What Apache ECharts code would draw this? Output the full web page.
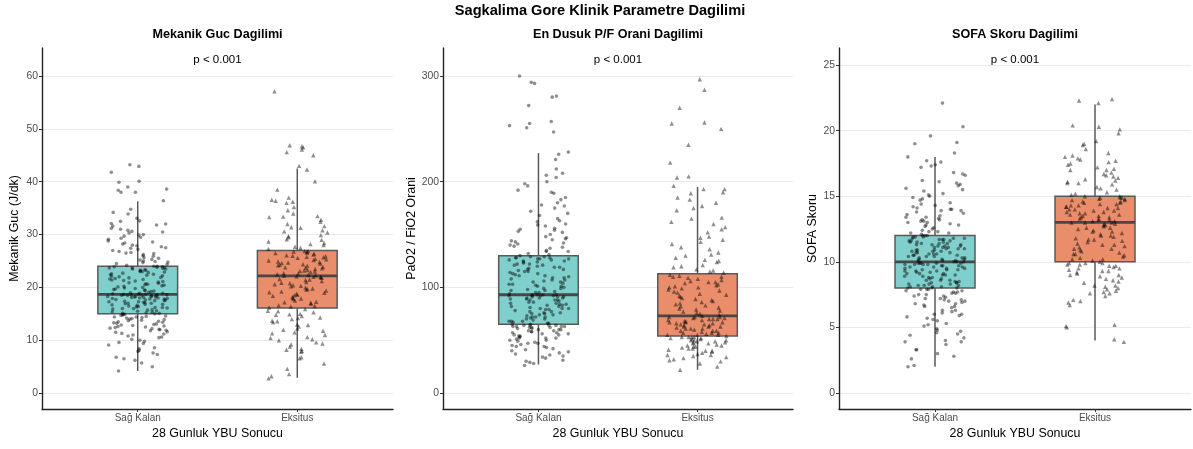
<!DOCTYPE html>
<html>
<head>
<meta charset="utf-8">
<script src="https://cdn.jsdelivr.net/npm/echarts@6/dist/echarts.min.js"></script>
<style>html,body{margin:0;padding:0;background:#fff}#c{width:1193px;height:449px}</style>
</head>
<body>
<div id="c"></div>
<script>
const categories = ['Sağ Kalan', 'Eksitus'];
const mainTitle = 'Sagkalima Gore Klinik Parametre Dagilimi';
const panelTitles = ['Mekanik Guc Dagilimi', 'En Dusuk P/F Orani Dagilimi', 'SOFA Skoru Dagilimi'];
const yNames = ['Mekanik Guc (J/dk)', 'PaO2 / FiO2 Orani', 'SOFA Skoru'];
const xName = '28 Gunluk YBU Sonucu';
const pLabel = 'p < 0.001';

const mgTicks = [0, 10, 20, 30, 40, 50, 60];
const pfTicks = [0, 100, 200, 300];
const sofaTicks = [0, 5, 10, 15, 20, 25];

// box stats: [min whisker, Q1, median, Q3, max whisker]
const mgBox = [[4.2, 15, 18.7, 24, 36.3], [2.9, 16.1, 22.2, 27, 42.5]];
const pfBox = [[27, 65, 93, 130, 227], [22, 54, 73, 113, 195]];
const sofaBox = [[2, 8, 10, 12, 18], [4, 10, 13, 15, 22]];

const mgSag = [4.2,5.0,5.7,6.2,6.5,7.3,7.6,7.9,8.1,8.4,9.1,9.4,9.8,10.2,10.5,10.8,11.0,11.3,11.6,11.8,12.0,12.1,12.3,12.5,12.7,12.9,13.0,13.2,13.4,13.5,13.7,13.8,14.0,14.1,14.3,14.4,14.5,14.6,14.8,14.9,
15.0,15.1,15.2,15.4,15.5,15.6,15.8,15.9,16.0,16.1,16.2,16.3,16.5,16.6,16.7,16.8,16.9,17.0,17.1,17.2,17.3,17.4,17.5,17.6,17.7,17.8,17.9,17.9,18.0,18.1,18.1,18.2,18.3,18.3,18.4,18.5,18.5,18.6,18.6,18.7,
18.8,18.9,19.0,19.1,19.3,19.4,19.5,19.7,19.8,20.0,20.1,20.2,20.4,20.5,20.6,20.8,20.9,21.0,21.2,21.3,21.5,21.6,21.8,21.9,22.0,22.2,22.3,22.5,22.6,22.8,22.9,23.0,23.1,23.2,23.4,23.5,23.6,23.7,23.8,23.9,
24.2,24.5,24.8,25.0,25.3,25.6,25.9,26.2,26.5,26.8,27.0,27.4,27.7,28.0,28.4,28.8,29.1,29.5,29.9,30.3,30.8,31.2,31.6,32.0,32.1,32.5,32.6,33.1,33.9,34.2,34.8,36.4,38.0,38.0,38.4,38.6,39.0,39.9,40.1,41.8,42.9,43.2,
6.8,8.6,9.6,10.0,10.6,11.2,11.5,11.9,12.2,12.4,12.6,12.8,13.1,13.3,13.6,13.9,14.2,14.4,14.7,14.9,
15.1,15.3,15.7,16.0,16.2,16.4,16.8,17.0,17.3,17.5,17.6,17.8,18.0,18.2,18.3,18.4,18.5,18.6,18.7,18.7,
18.9,19.2,19.6,19.9,20.3,20.7,21.1,21.4,21.7,22.1,22.4,22.7,23.0,23.3,23.5,23.7,23.8,23.9,24.0,24.0,
24.4,24.9,25.5,26.0,26.6,27.2,27.9,28.6,29.3,30.0,30.6,31.0,31.8,25.2,26.4,28.2,29.7,24.7,27.5,30.5];
const mgEks = [2.8,3.2,3.6,4.6,5.6,6.6,6.8,7.8,8.0,8.4,8.8,9.4,9.6,10.0,10.2,10.6,11.0,11.5,11.8,12.2,12.6,13.0,13.4,13.7,14.0,14.3,14.6,14.8,15.0,15.3,15.6,15.9,
16.2,16.4,16.6,16.9,17.1,17.3,17.5,17.8,18.0,18.2,18.4,18.6,18.8,19.0,19.2,19.4,19.6,19.8,20.0,20.2,20.4,20.6,20.8,21.0,21.2,21.4,21.6,21.8,21.9,22.0,22.1,22.2,
22.3,22.4,22.6,22.7,22.9,23.0,23.2,23.3,23.5,23.6,23.8,23.9,24.1,24.2,24.4,24.5,24.6,24.8,24.9,25.1,25.3,25.4,25.6,25.8,25.9,26.1,26.2,26.4,26.5,26.7,26.8,26.9,
27.3,27.7,28.0,28.4,28.7,29.1,29.5,29.9,30.4,30.8,31.3,31.6,32.0,32.8,33.3,33.4,33.5,34.6,36.0,36.2,36.4,36.6,37.0,40.1,42.3,43.0,45.0,45.6,46.1,46.5,46.7,46.9,57.1,
8.2,9.2,10.4,11.3,12.0,12.9,13.6,14.2,14.9,15.5,
16.5,17.2,17.9,18.5,19.1,19.7,20.3,20.9,21.5,22.0,
22.5,23.1,23.7,24.3,24.7,25.2,25.7,26.0,26.6,26.9,
27.5,28.2,29.0,29.7,30.6,31.4,32.4,34.0,35.2,38.5];
const pfSag = [26,28,30,31,33,35,36,37,38,40,41,42,43,44,45,46,47,48,49,50,51,52,52,53,54,55,56,57,57,58,59,60,60,61,62,62,63,63,64,64,
65,66,67,68,68,69,70,71,72,72,73,74,75,76,76,77,78,79,80,80,81,82,83,84,84,85,86,87,88,88,89,90,90,91,91,92,92,93,93,93,
94,95,96,97,98,99,100,101,102,103,104,105,106,107,108,109,110,111,112,113,114,115,116,117,118,119,120,121,122,123,124,125,125,126,127,127,128,128,129,129,
132,135,137,140,142,145,148,150,154,156,158,160,163,165,168,172,175,178,180,185,189,190,196,200,204,206,208,212,221,226,228,247,251,253,255,257,272,280,281,293,294,300,
29,34,39,44,47,50,52,54,55,56,58,59,60,61,62,63,63,64,64,65,
66,68,70,72,74,75,77,79,80,82,83,85,86,88,89,90,91,92,92,93,
95,97,99,101,103,105,107,109,111,113,115,117,119,121,122,124,126,127,128,130,
131,134,138,141,144,147,152,155,162,170,177,183,192,198,134,139,143,146,153,159];
const pfEks = [22,25,28,31,32,33,34,35,36,37,38,39,40,41,42,42,43,44,45,45,46,47,48,48,49,50,50,51,51,52,53,53,
54,55,55,56,57,57,58,59,59,60,61,61,62,63,63,64,64,65,66,66,67,67,68,69,69,70,70,71,71,72,72,73,
74,75,77,78,80,81,83,84,86,87,88,90,91,92,94,95,97,98,99,100,101,102,103,104,105,106,107,108,109,110,111,112,
115,117,119,121,124,126,128,131,133,138,141,143,147,148,155,157,160,165,166,173,175,177,183,185,189,190,193,193,196,204,205,218,235,250,255,256,270,287,297,
30,36,40,44,47,49,50,52,53,53,
55,57,59,61,63,65,67,68,70,72,
76,79,82,85,89,93,96,100,105,110,
114,116,120,125,130,136,145,152,162,180];
const sofaSag = [2.0,2.1,2.6,2.8,3.3,3.3,3.7,3.9,4.0,4.2,4.5,4.6,4.7,4.9,5.1,5.3,5.5,5.6,5.8,5.9,6.0,6.1,6.2,6.3,6.5,6.6,6.7,6.8,6.9,7.0,7.1,7.1,7.2,7.3,7.4,7.5,7.6,7.7,7.8,7.9,
8.0,8.0,8.1,8.1,8.2,8.2,8.3,8.3,8.4,8.4,8.5,8.6,8.6,8.7,8.8,8.8,8.9,9.0,9.0,9.1,9.1,9.2,9.3,9.3,9.4,9.4,9.5,9.5,9.6,9.6,9.7,9.7,9.8,9.8,9.8,9.9,9.9,9.9,10.0,10.0,
10.1,10.1,10.2,10.2,10.3,10.3,10.4,10.4,10.5,10.5,10.6,10.6,10.7,10.7,10.8,10.8,10.9,10.9,11.0,11.0,11.1,11.1,11.2,11.2,11.3,11.3,11.4,11.4,11.5,11.5,11.6,11.6,11.7,11.7,11.8,11.8,11.9,11.9,12.0,12.0,
12.2,12.3,12.4,12.6,12.7,12.8,12.9,13.0,13.1,13.2,13.3,13.4,13.5,13.6,13.8,13.9,14.0,14.1,14.3,14.5,14.7,14.9,15.0,15.2,15.4,15.6,15.8,15.9,16.0,16.1,16.6,16.7,17.2,17.4,17.6,17.7,18.0,18.3,19.0,19.1,19.6,20.3,22.1,
3.0,3.9,4.4,4.8,5.2,5.7,6.0,6.3,6.6,6.8,7.0,7.2,7.4,7.5,7.6,7.7,7.8,7.9,7.9,8.0,
8.1,8.2,8.3,8.4,8.5,8.7,8.9,9.0,9.2,9.3,9.4,9.5,9.6,9.7,9.8,9.9,9.9,10.0,8.6,9.1,
10.1,10.2,10.4,10.5,10.6,10.8,10.9,11.0,11.1,11.2,11.3,11.5,11.6,11.7,11.8,11.9,12.0,10.3,10.7,11.4,
12.1,12.2,12.5,12.8,13.0,13.2,13.4,13.7,13.9,14.2,14.4,14.8,15.1,15.5,16.2,16.8,17.3,12.3,13.1,14.0];
const sofaEks = [3.9,4.1,5.0,5.1,5.2,6.7,7.0,7.1,7.4,7.6,7.6,7.8,7.9,8.0,8.2,8.2,8.4,8.5,8.7,8.8,8.9,9.0,9.1,9.2,9.3,9.4,9.5,9.6,9.7,9.8,9.9,9.9,
10.0,10.1,10.2,10.3,10.4,10.5,10.6,10.7,10.8,10.9,11.0,11.1,11.2,11.3,11.4,11.5,11.6,11.7,11.8,11.9,12.0,12.1,12.2,12.3,12.4,12.5,12.6,12.7,12.8,12.9,12.9,13.0,
13.0,13.1,13.1,13.2,13.3,13.3,13.4,13.5,13.5,13.6,13.7,13.7,13.8,13.9,13.9,14.0,14.0,14.1,14.2,14.2,14.3,14.4,14.4,14.5,14.6,14.6,14.7,14.8,14.8,14.9,14.9,15.0,
15.1,15.3,15.5,15.7,15.9,16.0,16.1,16.2,16.4,16.5,16.6,16.8,17.0,17.1,17.2,17.4,17.6,17.7,17.8,18.0,18.1,18.6,18.9,19.2,19.8,20.1,20.3,20.4,22.1,22.3,22.4,
6.9,7.7,8.1,8.6,9.0,9.3,9.5,9.7,9.8,9.9,
10.2,10.6,11.0,11.3,11.7,12.0,12.3,12.6,12.8,13.0,
13.2,13.4,13.6,13.8,14.1,14.3,14.5,14.7,14.9,15.0,
15.2,15.6,16.0,16.3,16.7,17.0,17.5,17.9,18.3,19.0];

const FONT = 'Liberation Sans, Arial, sans-serif';
const boxColors = ['#7fcfcc', '#e98d6b'];

const panels = [
  { left: 42, width: 351, yMin: -3.0, yMax: 65.3, ticks: mgTicks, box: mgBox, pts: [mgSag, mgEks], nameGap: 21 },
  { left: 443, width: 350, yMin: -15.1, yMax: 326.5, ticks: pfTicks, box: pfBox, pts: [pfSag, pfEks], nameGap: 25 },
  { left: 839, width: 352, yMin: -1.22, yMax: 26.3, ticks: sofaTicks, box: sofaBox, pts: [sofaSag, sofaEks], nameGap: 20 }
];
const TOP = 48, HEIGHT = 361;

// deterministic horizontal jitter offsets (layout only, values are not touched)
function jit(i, seed) {
  const s = Math.sin(i * 12.9898 + seed * 78.233) * 43758.5453;
  return ((s - Math.floor(s)) - 0.5) * 0.38;
}

function renderBox(params, api) {
  const x = api.value(0), lo = api.value(1), q1 = api.value(2), med = api.value(3), q3 = api.value(4), hi = api.value(5);
  const hw = 0.25;
  const a = api.coord([x - hw, q3]), b = api.coord([x + hw, q1]);
  const t = api.coord([x, hi]), bt = api.coord([x, lo]);
  const m1 = api.coord([x - hw, med]), m2 = api.coord([x + hw, med]);
  return {
    type: 'group',
    children: [
      { type: 'line', shape: { x1: t[0], y1: t[1], x2: bt[0], y2: bt[1] }, style: { stroke: '#595959', lineWidth: 1.5 } },
      { type: 'rect', shape: { x: a[0], y: a[1], width: b[0] - a[0], height: b[1] - a[1] }, style: { fill: boxColors[params.dataIndex], stroke: '#595959', lineWidth: 1.5 } },
      { type: 'line', shape: { x1: m1[0], y1: m1[1], x2: m2[0], y2: m2[1] }, style: { stroke: '#474747', lineWidth: 2.8 } }
    ]
  };
}

const grid = [], xAxis = [], yAxis = [], series = [], graphic = [];
graphic.push({ type: 'text', x: 600, y: 11, style: { text: mainTitle, font: 'bold 14.6px ' + FONT, fill: '#000', align: 'center', verticalAlign: 'middle' } });

panels.forEach((p, k) => {
  grid.push({ left: p.left, top: TOP, width: p.width, height: HEIGHT, containLabel: false });
  xAxis.push({
    gridIndex: k, type: 'value', min: 0.4, max: 2.6,
    name: xName, nameLocation: 'middle', nameGap: 18,
    nameTextStyle: { fontSize: 12.4, color: '#000', fontFamily: FONT },
    axisLine: { show: true, onZero: false, lineStyle: { color: '#222', width: 1.4 } },
    axisTick: { show: true, length: 3, customValues: [1, 2], lineStyle: { color: '#333' } },
    axisLabel: { customValues: [1, 2], formatter: v => categories[Math.round(v) - 1], fontSize: 10, color: '#4d4d4d', margin: 4, fontFamily: FONT },
    splitLine: { show: false }
  });
  yAxis.push({
    gridIndex: k, type: 'value', min: p.yMin, max: p.yMax,
    name: yNames[k], nameLocation: 'middle', nameGap: p.nameGap,
    nameTextStyle: { fontSize: 12.4, color: '#000', fontFamily: FONT },
    axisLine: { show: true, onZero: false, lineStyle: { color: '#222', width: 1.4 } },
    axisTick: { show: true, length: 3, customValues: p.ticks, lineStyle: { color: '#333' } },
    axisLabel: { customValues: p.ticks, fontSize: 10.4, color: '#4d4d4d', margin: 4, fontFamily: FONT },
    splitLine: { show: true, lineStyle: { color: '#ebebeb', width: 1 } }
  });
  series.push({
    type: 'custom', xAxisIndex: k, yAxisIndex: k, renderItem: renderBox,
    encode: { x: 0, y: [1, 2, 3, 4, 5] }, silent: true, z: 2,
    data: p.box.map((b, i) => [i + 1].concat(b))
  });
  p.pts.forEach((arr, g) => {
    series.push({
      type: 'scatter', xAxisIndex: k, yAxisIndex: k, silent: true, z: 3,
      symbol: g === 0 ? 'circle' : 'triangle', symbolSize: g === 0 ? 3.6 : 4.4,
      itemStyle: { color: 'rgba(0,0,0,0.55)' },
      data: arr.map((v, i) => [g + 1 + jit(i, k * 2 + g + 1), v])
    });
  });
  const cx = p.left + p.width / 2;
  graphic.push({ type: 'text', x: cx, y: 35, style: { text: panelTitles[k], font: 'bold 12.6px ' + FONT, fill: '#000', align: 'center', verticalAlign: 'middle' } });
  graphic.push({ type: 'text', x: cx, y: 60, style: { text: pLabel, font: '11.5px ' + FONT, fill: '#000', align: 'center', verticalAlign: 'middle' } });
});

const chart = echarts.init(document.getElementById('c'), null, { renderer: 'canvas' });
chart.setOption({ animation: false, backgroundColor: '#fff', grid, xAxis, yAxis, series, graphic });
</script>
</body>
</html>
